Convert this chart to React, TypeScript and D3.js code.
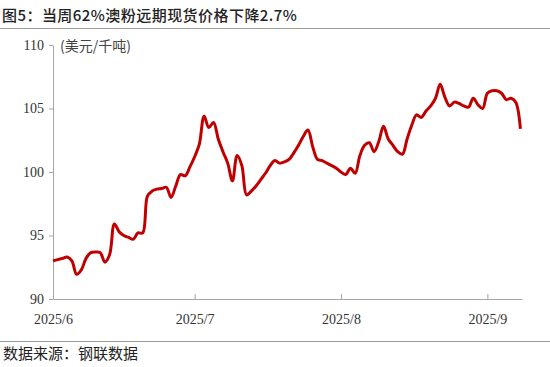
import * as d3 from 'd3';
import { useEffect, useRef } from 'react';

// 62%澳粉远期现货价格 (美元/千吨), daily, 2025/6/1 - 2025/9/8
const juneValues = [
  93.0, 93.1, 93.2, 93.3, 93.0, 91.95, 92.3, 93.2, 93.65, 93.7,
  93.65, 92.9, 93.5, 95.9, 95.3, 95.0, 94.85, 94.7, 95.2, 95.2,
  98.1, 98.5, 98.65, 98.7, 98.8, 98.0, 98.9, 99.8, 99.7, 100.4,
];
const julyValues = [
  101.2, 102.2, 104.4, 103.5, 103.9, 102.6, 101.6, 100.7, 99.3, 101.3,
  100.5, 98.2, 98.5, 98.9, 99.4, 99.9, 100.5, 100.9, 100.7, 100.8,
  101.0, 101.5, 102.1, 102.8, 103.3, 102.0, 101.0, 100.9, 100.7, 100.5, 100.3,
];
const augustValues = [
  100.0, 99.8, 100.3, 99.9, 101.3, 102.1, 102.3, 101.6, 102.4, 103.6,
  102.6, 102.1, 101.6, 101.4, 102.6, 103.7, 104.5, 104.3, 104.8, 105.2,
  105.8, 106.9, 105.9, 105.2, 105.5, 105.4, 105.2, 105.1, 105.8, 105.3, 105.0,
];
const septemberValues = [106.2, 106.4, 106.4, 106.2, 105.7, 105.8, 105.5, 103.4];

const monthLabels = ['2025/6', '2025/7', '2025/8', '2025/9'];
const yTicks = [90, 95, 100, 105, 110];

const title = '图5：当周62%澳粉远期现货价格下降2.7%';
const unitLabel = '(美元/千吨)';
const source = '数据来源：钢联数据';

const monthStarts = [new Date(2025, 5, 1), new Date(2025, 6, 1), new Date(2025, 7, 1), new Date(2025, 8, 1)];
const monthValues = [juneValues, julyValues, augustValues, septemberValues];

const data = monthValues.flatMap((vals, m) =>
  vals.map((v, i) => ({ date: d3.timeDay.offset(monthStarts[m], i), value: v })),
);

const SERIF = '"Liberation Serif", "Times New Roman", serif';
const CJK = '"Noto Sans CJK SC", "Noto Sans", sans-serif';

export default function App() {
  const ref = useRef<SVGSVGElement>(null);

  useEffect(() => {
    const svg = d3.select(ref.current);
    svg.selectAll('*').remove();

    const W = 550;
    const H = 367;
    const left = 53, right = 522, top = 45, bottom = 299;

    const x = d3.scaleTime()
      .domain([monthStarts[0], new Date(2025, 8, 8, 8)])
      .range([left, right]);
    const y = d3.scaleLinear().domain([90, 110]).range([bottom, top]);

    // title + rules
    svg.append('text')
      .attr('x', 2).attr('y', 20.5)
      .attr('font-family', CJK).attr('font-size', 15).attr('font-weight', 500)
      .attr('letter-spacing', 0.45)
      .attr('fill', '#222')
      .text(title);
    svg.append('line')
      .attr('x1', 0).attr('x2', W).attr('y1', 28.5).attr('y2', 28.5)
      .attr('stroke', '#9a9a9a');
    svg.append('line')
      .attr('x1', 0).attr('x2', W).attr('y1', 341.5).attr('y2', 341.5)
      .attr('stroke', '#9a9a9a');
    svg.append('text')
      .attr('x', 3).attr('y', 359)
      .attr('font-family', CJK).attr('font-size', 15)
      .attr('fill', '#222')
      .text(source);

    // axes
    const yAxis = svg.append('g')
      .attr('transform', `translate(${left},0)`)
      .call(d3.axisLeft(y).tickValues(yTicks).tickSize(4).tickSizeOuter(0).tickPadding(5));
    const xAxis = svg.append('g')
      .attr('transform', `translate(0,${bottom})`)
      .call(
        d3.axisBottom(x)
          .tickValues(monthStarts)
          .tickFormat((_d, i) => monthLabels[i])
          .tickSize(-5).tickSizeOuter(0).tickPadding(15),
      );
    [yAxis, xAxis].forEach((g) => {
      g.select('.domain').attr('stroke', '#a6a6a6');
      g.selectAll('.tick line').attr('stroke', '#a6a6a6');
      g.selectAll('.tick text')
        .attr('font-family', SERIF).attr('font-size', 14).attr('fill', '#333');
    });

    svg.append('text')
      .attr('x', 60).attr('y', 50.5)
      .attr('font-family', CJK).attr('font-size', 14)
      .attr('fill', '#444')
      .text(unitLabel);

    // series
    const line = d3.line<{ date: Date; value: number }>()
      .x((d) => x(d.date))
      .y((d) => y(d.value))
      .curve(d3.curveCatmullRom.alpha(0.5));
    svg.append('path')
      .datum(data)
      .attr('fill', 'none')
      .attr('stroke', '#C00000')
      .attr('stroke-width', 3)
      .attr('stroke-linejoin', 'round')
      .attr('d', line);

    svg.attr('width', W).attr('height', H);
  }, []);

  return (
    <svg
      ref={ref}
      width={550}
      height={367}
      style={{ position: 'absolute', left: 0, top: 0, background: '#fff' }}
    />
  );
}
